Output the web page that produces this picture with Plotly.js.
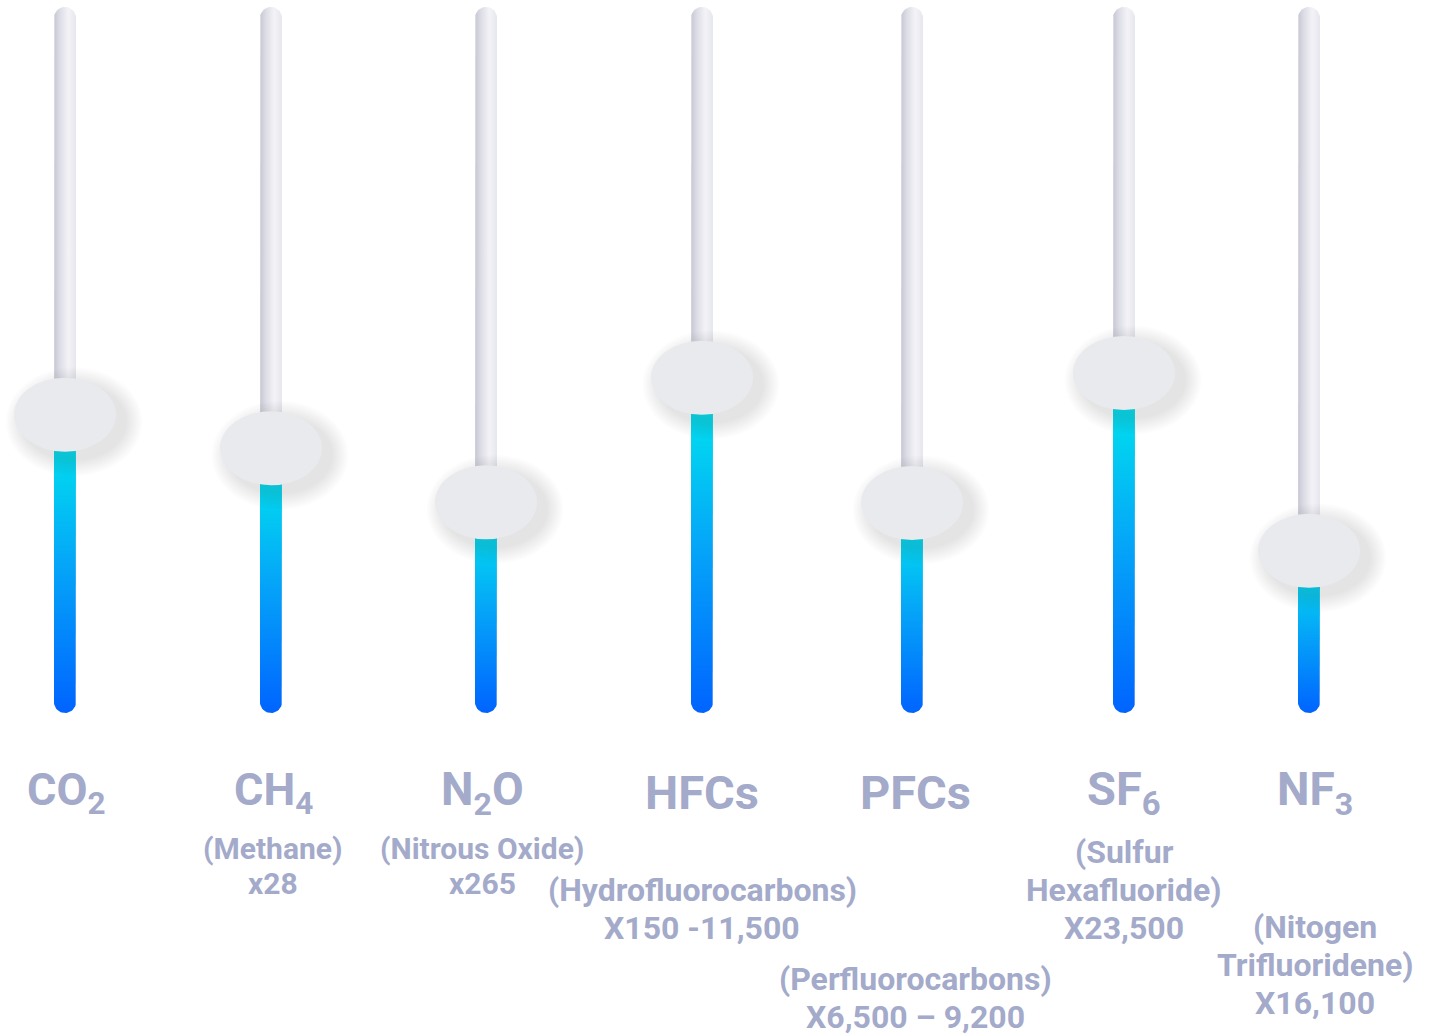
<!DOCTYPE html>
<html>
<head>
<meta charset="utf-8">
<script src="https://cdn.plot.ly/plotly-3.0.1.min.js"></script>
<style>
  html, body { margin: 0; padding: 0; background: #ffffff; }
  #chart { width: 1433px; height: 1036px; }
</style>
</head>
<body>
<div id="chart"></div>
<script>
// ---------- DATA ----------
const gases = ['CO2', 'CH4', 'N2O', 'HFCs', 'PFCs', 'SF6', 'NF3'];
const gasLabels = ['CO<sub>2</sub>', 'CH<sub>4</sub>', 'N<sub>2</sub>O', 'HFCs', 'PFCs', 'SF<sub>6</sub>', 'NF<sub>3</sub>'];
const gasNames = ['', '(Methane)', '(Nitrous Oxide)', '(Hydrofluorocarbons)', '(Perfluorocarbons)', '(Sulfur<br>Hexafluoride)', '(Nitogen<br>Trifluoridene)'];
const gwpLabels = ['', 'x28', 'x265', 'X150 -11,500', 'X6,500 – 9,200', 'X23,500', 'X16,100'];
const sliderLevel = [42.0, 37.1, 29.2, 47.4, 29.1, 48.1, 22.1]; // slider position, % of track

// ---------- LAYOUT CONSTANTS ----------
const W = 1433, H = 1036;
const slotX = [65, 271, 486, 702, 912, 1124, 1309];
const labelX = [66, 273, 482, 702, 915, 1124, 1315];
const mainSize = [45, 45, 46, 47, 47, 47, 46];
const subFirstLine = [0, 848, 848, 890, 979, 852, 927];
const subSize = [30, 30, 30, 32, 32, 32, 32];
const subSpacing = [35, 35, 35, 38, 38, 38, 38];
const TRACK_MIN = 0, TRACK_MAX = 100;
const Y_MIN = -48.83, Y_MAX = 102.63;
const PX_PER_UNIT = H / (Y_MAX - Y_MIN);
const TRACK_HALF = 11;      // px
const KNOB_RX = 51, KNOB_RY = 37; // px
const TEXT_COLOR = '#a3aaca';

function dy(px) { return px / PX_PER_UNIT; }
function paperY(pix) { return 1 - pix / H; }

function capsule(xc, half, yBot, yTop, capTop, capBot) {
  const xs = [], ys = [];
  const N = 24;
  xs.push(xc - half); ys.push(yBot);
  xs.push(xc - half); ys.push(yTop);
  if (capTop) {
    for (let k = 1; k < N; k++) {
      const t = Math.PI - Math.PI * k / N;
      xs.push(xc + half * Math.cos(t)); ys.push(yTop + dy(half * Math.sin(t)));
    }
  }
  xs.push(xc + half); ys.push(yTop);
  xs.push(xc + half); ys.push(yBot);
  if (capBot) {
    for (let k = 1; k < N; k++) {
      const t = -Math.PI * k / N;
      xs.push(xc + half * Math.cos(t)); ys.push(yBot + dy(half * Math.sin(t)));
    }
  }
  xs.push(xc - half); ys.push(yBot);
  return { xs, ys };
}

const traces = [];
// grey tracks
gases.forEach((g, i) => {
  const c = capsule(slotX[i], TRACK_HALF, TRACK_MIN, TRACK_MAX, true, true);
  traces.push({
    type: 'scatter', x: c.xs, y: c.ys, mode: 'lines', line: { width: 0, color: 'rgba(0,0,0,0)' },
    fill: 'toself', hoverinfo: 'skip', showlegend: false,
    fillgradient: { type: 'horizontal',
      colorscale: [[0, '#c6c7d3'], [0.3, '#dedfe7'], [0.65, '#f3f3f7'], [1, '#e6e7ee']] }
  });
});
// blue fills
gases.forEach((g, i) => {
  const c = capsule(slotX[i], TRACK_HALF, TRACK_MIN, sliderLevel[i], false, true);
  traces.push({
    type: 'scatter', x: c.xs, y: c.ys, mode: 'lines', line: { width: 0, color: 'rgba(0,0,0,0)' },
    fill: 'toself', hoverinfo: 'skip', showlegend: false, name: g,
    fillgradient: { type: 'vertical',
      colorscale: [[0, '#0064ff'], [0.5, '#05a6f8'], [0.92, '#00e2ee'], [1, '#00e4ef']] }
  });
});

// knobs and their shadows
const shapes = [];
gases.forEach((g, i) => {
  const xc = slotX[i], yc = sliderLevel[i];
  for (let k = 1; k <= 9; k++) {
    const grow = 1.9 * k;
    shapes.push({
      type: 'circle', xref: 'x', yref: 'y', layer: 'above',
      x0: xc + 9 - KNOB_RX - grow, x1: xc + 9 + KNOB_RX + grow,
      y0: yc - dy(7) - dy(KNOB_RY + grow), y1: yc - dy(7) + dy(KNOB_RY + grow),
      fillcolor: '#5a607a', opacity: 0.02, line: { width: 0 }
    });
  }
  shapes.push({
    type: 'circle', xref: 'x', yref: 'y', layer: 'above',
    x0: xc - KNOB_RX, x1: xc + KNOB_RX,
    y0: yc - dy(KNOB_RY), y1: yc + dy(KNOB_RY),
    fillcolor: '#e9eaee', line: { width: 0 }
  });
});

// labels
const annotations = [];
gases.forEach((g, i) => {
  annotations.push({
    xref: 'x', yref: 'paper', x: labelX[i], y: paperY(792), yanchor: 'middle', xanchor: 'center',
    text: gasLabels[i], showarrow: false,
    font: { family: 'Roboto', size: mainSize[i], color: TEXT_COLOR, weight: 700 }
  });
  if (gasNames[i]) {
    const lines = gasNames[i].split('<br>').concat([gwpLabels[i]]);
    lines.forEach((ln, j) => {
      annotations.push({
        xref: 'x', yref: 'paper', x: labelX[i], y: paperY(subFirstLine[i] + j * subSpacing[i]),
        yanchor: 'middle', xanchor: 'center',
        text: ln, showarrow: false,
        font: { family: 'Roboto', size: subSize[i], color: TEXT_COLOR, weight: 700 }
      });
    });
  }
});

const layout = {
  width: W, height: H,
  margin: { l: 0, r: 0, t: 0, b: 0 },
  paper_bgcolor: '#ffffff', plot_bgcolor: '#ffffff',
  showlegend: false,
  xaxis: { range: [0, W], visible: false, fixedrange: true },
  yaxis: { range: [Y_MIN, Y_MAX], visible: false, fixedrange: true },
  shapes, annotations
};

Plotly.newPlot('chart', traces, layout, { displayModeBar: false, staticPlot: true });
</script>
</body>
</html>
